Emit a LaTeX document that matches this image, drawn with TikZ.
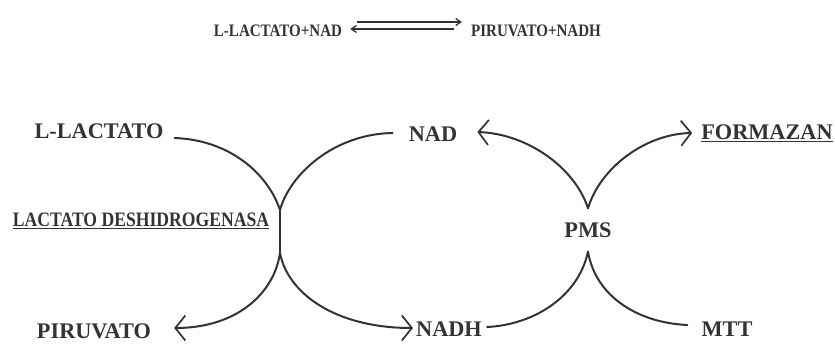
\documentclass[tikz,border=0pt]{standalone}
\usepackage{fontspec}
\setmainfont{Liberation Serif}
\newfontfamily\narrowfont[FakeStretch=0.86]{Liberation Serif}
\usetikzlibrary{arrows.meta}
\definecolor{ink}{HTML}{333333}
\tikzset{
  lbl/.style={text=ink, inner sep=0pt, font=\fontsize{22.3}{24}\selectfont\bfseries},
  small/.style={text=ink, inner sep=0pt, font=\fontsize{17.5}{20}\narrowfont\bfseries},
  curve/.style={draw=ink, line width=2pt, line cap=round},
  barb/.style={-{Straight Barb[length=10pt,width=25pt,line width=1.7pt]}},
  eqarrow/.style={draw=ink, line width=1.3pt},
}
\begin{document}
\begin{tikzpicture}[x=1pt,y=-1pt]
\useasboundingbox (0,0) rectangle (835,344);
% top equation
\node[small] (lhs) at (278,31) {L-LACTATO+NAD};
\node[small] (rhs) at (536,31) {PIRUVATO+NADH};
\draw[eqarrow,-{Straight Barb[length=5pt,width=7pt]}] ([xshift=15pt,yshift=9pt]lhs.east) -- ([xshift=-9pt,yshift=9pt]rhs.west);
\draw[eqarrow,-{Straight Barb[length=5pt,width=7pt]}] ([xshift=-17pt,yshift=2pt]rhs.west) -- ([xshift=8pt,yshift=2pt]lhs.east);
% labels
\node[lbl] (ll) at (99,131) {L-LACTATO};
\node[lbl] (pir) at (94,331) {PIRUVATO};
\node[small, font=\fontsize{20.5}{22}\narrowfont\bfseries] (ldh) at (141,221) {\underline{LACTATO DESHIDROGENASA}};
\node[lbl] (nad) at (433,134) {NAD};
\node[lbl] (nadh) at (449,329) {NADH};
\node[lbl] (pms) at (588,230) {PMS};
\node[lbl] (form) at (767,133) {\underline{FORMAZAN}};
\node[lbl] (mtt) at (727,329) {MTT};
% junction points
\coordinate (xt) at (280,210);
\coordinate (xb) at (280,253);
% left X
\draw[curve] ([xshift=11pt,yshift=-7pt]ll.east) .. controls (230,140) and (268,174) .. (xt);
\draw[curve] ([xshift=-16pt,yshift=1pt]nad.west) .. controls (334,134) and (290,174) .. (xt);
\draw[curve] (xt) -- (xb);
\draw[curve,barb] (xb) .. controls (274,294) and (236,328) .. ([xshift=23pt,yshift=3pt]pir.east);
\draw[curve,barb] (xb) .. controls (288,294) and (336,328) .. ([xshift=-3pt,yshift=1pt]nadh.west);
% right X
\draw[curve,barb] ([yshift=14pt]pms.north) .. controls (575,168) and (528,134) .. ([xshift=20pt,yshift=2pt]nad.east);
\draw[curve,barb] ([yshift=14pt]pms.north) .. controls (600,168) and (645,134) .. ([xshift=-9pt]form.west);
\draw[curve] ([yshift=-14pt]pms.south) .. controls (578,298) and (532,325) .. ([xshift=5pt,yshift=2pt]nadh.east);
\draw[curve] ([yshift=-14pt]pms.south) .. controls (596,298) and (640,323) .. ([xshift=-14pt,yshift=4pt]mtt.west);
\end{tikzpicture}
\end{document}
